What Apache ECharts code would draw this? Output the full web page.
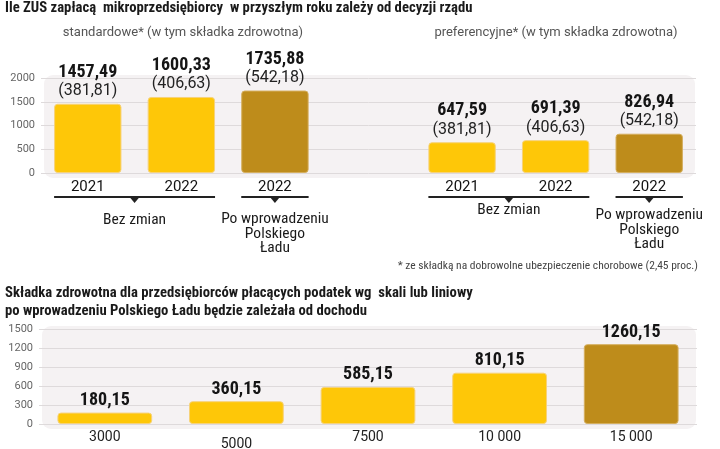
<!DOCTYPE html>
<html><head><meta charset="utf-8">
<script src="https://cdn.jsdelivr.net/npm/echarts@6/dist/echarts.min.js"></script>
<style>html,body{margin:0;padding:0;background:#fff}#c{width:720px;height:449px}</style>
</head><body><div id="c"></div><script>
// ---- data ----
const topYears = ['2021', '2022', '2022'];
const standardTotal = [1457.49, 1600.33, 1735.88];
const standardHealth = [381.81, 406.63, 542.18];
const preferentialTotal = [647.59, 691.39, 826.94];
const preferentialHealth = [381.81, 406.63, 542.18];
const afterReform = [false, false, true];
const bracketTexts = ['Bez zmian', 'Po wprowadzeniu\nPolskiego\nŁadu'];
const incomeCategories = ['3000', '5000', '7500', '10 000', '15 000'];
const healthByIncome = [180.15, 360.15, 585.15, 810.15, 1260.15];
const incomeAfterReform = [false, false, false, false, true];

// ---- style ----
const NARROW = "'Liberation Sans Narrow','Roboto Condensed','Arial Narrow',sans-serif";
const SANS = "Roboto,'Noto Sans',sans-serif";
const YELLOW = '#FEC708', GOLD = '#BE8C1B';
const fmt = v => v.toFixed(2).replace('.', ',');

const topCats = [...topYears, '', ...topYears];
const topTotals = [...standardTotal, null, ...preferentialTotal];
const topHealth = [...standardHealth, null, ...preferentialHealth];
const topDark = [...afterReform, false, ...afterReform];

const barStyle = dark => ({
  color: dark ? GOLD : YELLOW,
  borderRadius: 3,
  borderColor: dark ? '#D4AE5E' : '#F6D27A',
  borderWidth: 1
});

const chart = echarts.init(document.getElementById('c'), null, {renderer: 'canvas'});
const option = {
  animation: false,
  backgroundColor: '#fff',
  title: [
    {text: 'Ile ZUS zapłacą  mikroprzedsiębiorcy  w przyszłym roku zależy od decyzji rządu', left: 5, top: 1, padding: 0,
     textStyle: {fontFamily: NARROW, fontWeight: 'bold', fontSize: 14.7, color: '#1a1a1a'}},
    {text: 'standardowe* (w tym składka zdrowotna)', left: 183, top: 26, padding: 0, textAlign: 'center',
     textStyle: {fontFamily: SANS, fontWeight: 'normal', fontSize: 13, color: '#555'}},
    {text: 'preferencyjne* (w tym składka zdrowotna)', left: 556, top: 26, padding: 0, textAlign: 'center',
     textStyle: {fontFamily: SANS, fontWeight: 'normal', fontSize: 13, color: '#555'}},
    {text: '* ze składką na dobrowolne ubezpieczenie chorobowe (2,45 proc.)', right: 22, top: 260, padding: 0,
     textStyle: {fontFamily: NARROW, fontWeight: 'normal', fontSize: 11.5, color: '#444'}},
    {text: 'Składka zdrowotna dla przedsiębiorców płacących podatek wg  skali lub liniowy\npo wprowadzeniu Polskiego Ładu będzie zależała od dochodu',
     left: 5, top: 284, padding: 0,
     textStyle: {fontFamily: NARROW, fontWeight: 'bold', fontSize: 14.7, color: '#1a1a1a', lineHeight: 18}}
  ],
  grid: [
    {left: 41, right: 24, top: 78, bottom: 276, outerBoundsMode: 'none', containLabel: false},
    {left: 39, right: 23, top: 329, bottom: 25, outerBoundsMode: 'none', containLabel: false}
  ],
  xAxis: [
    {type: 'category', gridIndex: 0, data: topCats,
     axisLine: {show: false}, axisTick: {show: false},
     axisLabel: {margin: 7, fontFamily: SANS, fontSize: 15, color: '#111', interval: 0}},
    {type: 'category', gridIndex: 1, data: incomeCategories,
     axisLine: {show: false}, axisTick: {show: false},
     axisLabel: {margin: 6, fontFamily: SANS, fontSize: 14, color: '#222', interval: 0,
       formatter: (v, i) => i === 1 ? '{low|' + v + '}' : v,
       rich: {low: {padding: [7, 0, 0, 0], fontFamily: SANS, fontSize: 14, color: '#222'}}}}
  ],
  yAxis: [
    {type: 'value', gridIndex: 0, min: 0, max: 2000, interval: 500,
     axisLine: {show: false}, axisTick: {show: false},
     axisLabel: {margin: 6, fontFamily: SANS, fontSize: 11, color: '#666', formatter: v => String(v)},
     splitLine: {lineStyle: {color: '#dedadb', width: 1}}},
    {type: 'value', gridIndex: 1, min: 0, max: 1500, interval: 300,
     axisLine: {show: false}, axisTick: {show: false},
     axisLabel: {margin: 6, fontFamily: SANS, fontSize: 11, color: '#666', formatter: v => String(v)},
     splitLine: {lineStyle: {color: '#dedadb', width: 1}}}
  ],
  series: [
    {type: 'bar', xAxisIndex: 0, yAxisIndex: 0, barWidth: '72%', z: 3,
     data: topTotals.map((v, i) => v == null ? null : ({value: v, itemStyle: barStyle(topDark[i])})),
     label: {show: true, position: 'top', distance: 3,
       formatter: p => '{a|' + fmt(p.value) + '}\n{b|(' + fmt(topHealth[p.dataIndex]) + ')}',
       rich: {
         a: {fontFamily: NARROW, fontWeight: 'bold', fontSize: 18, color: '#151515', lineHeight: 19, align: 'center'},
         b: {fontFamily: SANS, fontSize: 16, color: '#222', lineHeight: 19, align: 'center'}
       }}},
    {type: 'bar', xAxisIndex: 1, yAxisIndex: 1, barWidth: '72%', z: 3,
     data: healthByIncome.map((v, i) => ({value: v, itemStyle: barStyle(incomeAfterReform[i])})),
     label: {show: true, position: 'top', distance: 3, formatter: p => fmt(p.value),
       fontFamily: NARROW, fontWeight: 'bold', fontSize: 18, color: '#151515'}}
  ]
};
chart.setOption(option);

// ---- decorations derived from the axes ----
function bandInfo(axisIdx, n) {
  const a = chart.convertToPixel({xAxisIndex: axisIdx}, 0);
  const b = chart.convertToPixel({xAxisIndex: axisIdx}, n - 1);
  const band = (b - a) / (n - 1);
  return {a, b, band};
}
const g = [];
// grid backgrounds
[[0, topCats.length, 2000], [1, incomeCategories.length, 1500]].forEach(([i, n, maxV]) => {
  const bi = bandInfo(i, n);
  const y0 = chart.convertToPixel({yAxisIndex: i}, 0);
  const y1 = chart.convertToPixel({yAxisIndex: i}, maxV);
  g.push({type: 'rect', z: -10, silent: true,
    shape: {x: bi.a - bi.band / 2 + 3, y: y1 - 3, width: bi.b - bi.a + bi.band - 4, height: y0 - y1 + 8, r: 9},
    style: {fill: '#f5f2f3'}});
});
// brackets under top chart
const tb = bandInfo(0, topCats.length);
const brackets = [
  {from: 0, to: 1, text: bracketTexts[0], dy: 16},
  {from: 2, to: 2, text: bracketTexts[1], dy: 15},
  {from: 4, to: 5, text: bracketTexts[0], dy: 6},
  {from: 6, to: 6, text: bracketTexts[1], dy: 11}
];
const yBase = chart.convertToPixel({yAxisIndex: 0}, 0);
brackets.forEach(br => {
  const x1 = chart.convertToPixel({xAxisIndex: 0}, br.from) - tb.band * 0.36;
  const x2 = chart.convertToPixel({xAxisIndex: 0}, br.to) + tb.band * 0.36;
  const ly = yBase + 24;
  const mx = (x1 + x2) / 2;
  g.push({type: 'line', shape: {x1, y1: ly, x2, y2: ly}, style: {stroke: '#222', lineWidth: 2}});
  g.push({type: 'polygon', shape: {points: [[mx - 5, ly], [mx + 5, ly], [mx, ly + 6]]}, style: {fill: '#222'}});
  g.push({type: 'text', x: mx, y: ly + br.dy, style: {text: br.text, align: 'center', verticalAlign: 'top',
    font: '15.5px ' + NARROW, fill: '#1a1a1a', lineHeight: 14.5}});
});
chart.setOption({graphic: g});
</script></body></html>
